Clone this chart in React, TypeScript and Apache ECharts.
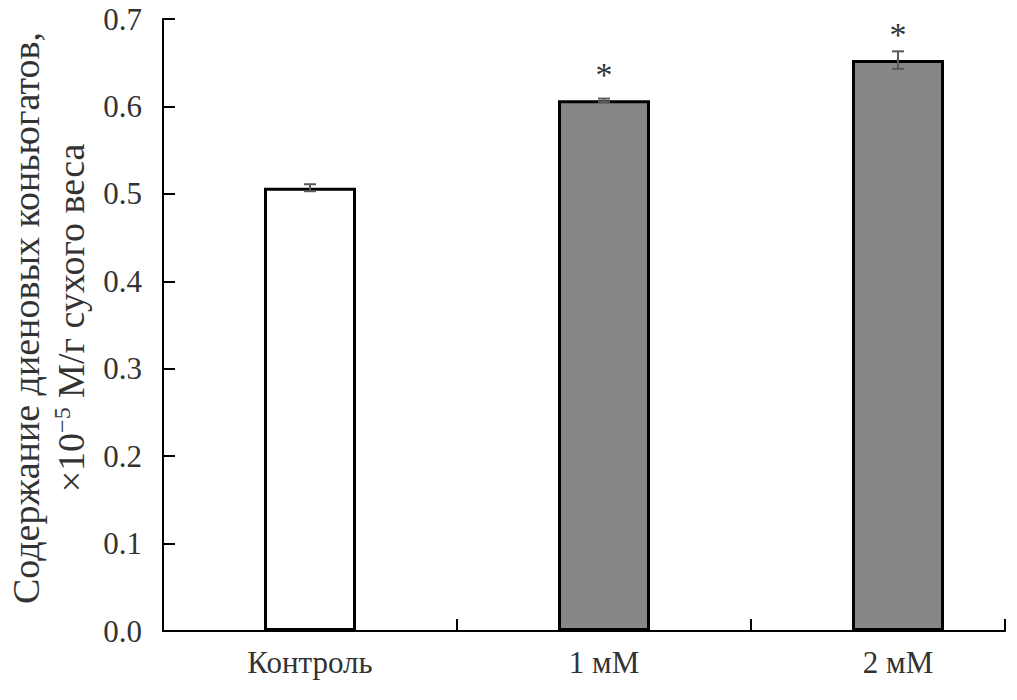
import React, { useEffect, useRef } from "react";
import * as echarts from "echarts";

const categories = ["Контроль", "1 мМ", "2 мМ"];
const values = [0.507, 0.607, 0.653];
const errors = [0.004, 0.002, 0.01];
const marks = ["", "*", "*"];
const barColors = ["#ffffff", "#878787", "#878787"];
const yTicks = { min: 0, max: 0.7, interval: 0.1 };

const FONT = "Liberation Serif";
const TEXT = "#333333";

export default function App() {
  const ref = useRef<HTMLDivElement>(null);
  useEffect(() => {
    if (!ref.current) return;
    const chart = echarts.init(ref.current, null, { renderer: "svg" });
    const gridTop = 19;
    const gridHeight = 612;
    const catWidth = 294;
    const gridLeft = 163;
    const axisRightEnd = 1005;
    const xMaxVal = (axisRightEnd - gridLeft) / catWidth - 0.5;
    chart.setOption({
      animation: false,
      backgroundColor: "#ffffff",
      grid: [
        { left: gridLeft, width: catWidth * 3, top: gridTop, height: gridHeight, outerBoundsMode: "none", containLabel: false },
        { left: gridLeft, width: axisRightEnd - gridLeft, top: gridTop, height: gridHeight, outerBoundsMode: "none", containLabel: false },
      ],
      xAxis: [
        {
          type: "category",
          gridIndex: 0,
          data: categories,
          boundaryGap: true,
          axisLine: { show: false },
          axisTick: { show: false },
          axisLabel: { fontFamily: FONT, fontSize: 31, color: TEXT, margin: 16 },
        },
        {
          type: "value",
          gridIndex: 1,
          min: -0.5,
          max: xMaxVal,
          interval: 1,
          axisLine: { show: true, lineStyle: { color: "#000", width: 2 } },
          axisTick: { show: true, inside: true, length: 12, lineStyle: { color: "#000", width: 2 } },
          axisLabel: { show: false },
          splitLine: { show: false },
        },
      ],
      yAxis: [
        {
          type: "value",
          gridIndex: 0,
          min: yTicks.min,
          max: yTicks.max,
          interval: yTicks.interval,
          axisLine: { show: true, lineStyle: { color: "#000", width: 2 } },
          axisTick: { show: true, inside: true, length: 12, lineStyle: { color: "#000", width: 2 } },
          axisLabel: {
            fontFamily: FONT,
            fontSize: 31,
            color: TEXT,
            margin: 21,
            formatter: (v: number) => v.toFixed(1),
          },
          splitLine: { show: false },
        },
        {
          type: "value",
          gridIndex: 1,
          min: yTicks.min,
          max: yTicks.max,
          show: false,
        },
      ],
      graphic: [
        {
          type: "text",
          x: 48,
          y: 318,
          rotation: Math.PI / 2,
          style: {
            text: "{a|Содержание диеновых коньюгатов,}\n{a|×10}{sup|−5}{a| М/г сухого веса}",
            fontSize: 38,
            fontFamily: FONT,
            fill: TEXT,
            align: "center",
            verticalAlign: "middle",
            rich: {
              a: { fontSize: 38, fontFamily: FONT, fill: TEXT, lineHeight: 45 },
              sup: { fontSize: 24, fontFamily: FONT, fill: TEXT, lineHeight: 45, padding: [0, 0, 17, 0] },
            },
          } as any,
        },
      ],
      series: [
        {
          type: "bar",
          xAxisIndex: 0,
          yAxisIndex: 0,
          barWidth: 92,
          data: values.map((v, i) => ({
            value: v,
            itemStyle: { color: barColors[i], borderColor: "#000", borderWidth: 3 },
          })),
        },
        {
          type: "custom",
          xAxisIndex: 0,
          yAxisIndex: 0,
          data: values.map((v, i) => [i, v, errors[i]]),
          z: 10,
          renderItem: (params: any, api: any) => {
            const x = api.value(0);
            const v = api.value(1);
            const e = api.value(2);
            const mark = marks[params.dataIndex];
            const top = api.coord([x, v + e]);
            const bot = api.coord([x, v - e]);
            const barTop = api.coord([x, v]);
            const cap = 6;
            const st = { stroke: "#5a5a5a", lineWidth: 2 };
            const children: any[] = [
              { type: "line", shape: { x1: top[0], y1: top[1], x2: bot[0], y2: bot[1] }, style: st },
              { type: "line", shape: { x1: top[0] - cap, y1: top[1], x2: top[0] + cap, y2: top[1] }, style: st },
              { type: "line", shape: { x1: bot[0] - cap, y1: bot[1], x2: bot[0] + cap, y2: bot[1] }, style: st },
            ];
            if (mark) {
              children.push({
                type: "text",
                style: {
                  text: mark,
                  x: barTop[0],
                  y: barTop[1] - 9,
                  align: "center",
                  verticalAlign: "bottom",
                  fontSize: 34,
                  fontFamily: FONT,
                  fill: TEXT,
                },
              });
            }
            return { type: "group", children };
          },
        },
      ],
    });
    return () => chart.dispose();
  }, []);
  return (
    <div style={{ width: 1017, height: 700, overflow: "hidden", position: "absolute", left: 0, top: 0 }}>
      <div ref={ref} style={{ width: 1017, height: 700 }} />
    </div>
  );
}
